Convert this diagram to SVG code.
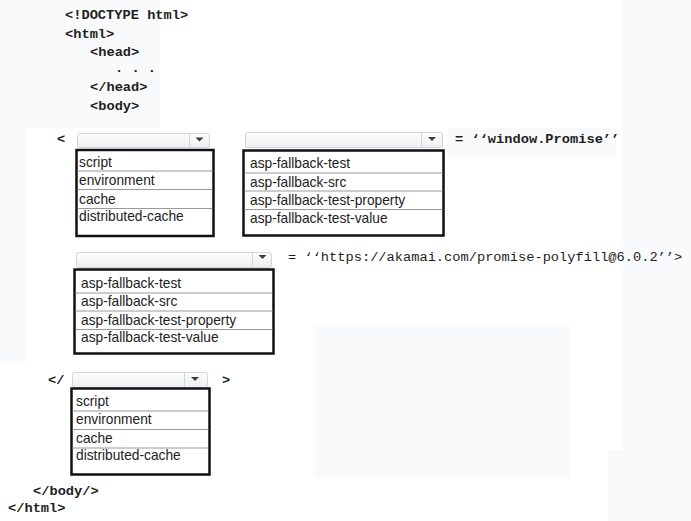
<svg xmlns="http://www.w3.org/2000/svg" width="691" height="521" viewBox="0 0 691 521">
  <style>
    .code { font-family: "Liberation Mono", "Courier New", monospace; font-size: 13.7px; font-weight: bold; fill: #1e1e1e; }
    .codeN { font-family: "Liberation Mono", "Courier New", monospace; font-size: 13.7px; fill: #1e1e1e; }
    .item { font-family: "Liberation Sans", Arial, sans-serif; font-size: 13.75px; fill: #222; }
    .field { fill: url(#fieldGrad); stroke: #d2d5d9; stroke-width: 1; }
    .div { stroke: #d2d5d9; stroke-width: 1; }
    .arrow { fill: #3c3c3c; }
    .list { fill: #ffffff; stroke: #111; stroke-width: 2.5; }
    .row { stroke: #9a9a9a; stroke-width: 1; }
    .patch { fill: #f9fafb; }
  </style>
  <defs>
    <linearGradient id="fieldGrad" x1="0" y1="0" x2="0" y2="1">
      <stop offset="0" stop-color="#fdfdfd"/>
      <stop offset="1" stop-color="#eceef1"/>
    </linearGradient>
    <clipPath id="codeClip">
      <rect x="0" y="0" width="691" height="128"/>
    </clipPath>
  </defs>

  <rect x="0" y="0" width="691" height="521" fill="#ffffff"/>
  <g id="background">
    <rect class="patch" x="0" y="0" width="27" height="362"/>
    <rect class="patch" x="27" y="0" width="133" height="128"/>
    <rect class="patch" x="448" y="128" width="168" height="28"/>
    <rect class="patch" x="313" y="325" width="257" height="154"/>
    <rect class="patch" x="623" y="0" width="68" height="450"/>
    <rect class="patch" x="608" y="450" width="83" height="71"/>
  </g>

  <g id="code">
    <text class="code" x="65" y="19">&lt;!DOCTYPE html&gt;</text>
    <text class="code" x="65" y="38">&lt;html&gt;</text>
    <text class="code" x="90" y="56">&lt;head&gt;</text>
    <text class="code" x="115" y="72">. . .</text>
    <text class="code" x="90" y="91">&lt;/head&gt;</text>
    <text class="code" x="90" y="110">&lt;body&gt;</text>
    <text class="code" x="115" y="131" clip-path="url(#codeClip)">. . .</text>
    <text class="code" x="57" y="143">&lt;</text>
    <text class="code" x="455" y="143">= ‘‘window.Promise’’</text>
    <text class="codeN" x="288" y="261">= ‘‘https://akamai.com/promise-polyfill@6.0.2’’&gt;</text>
    <text class="code" x="48" y="384">&lt;/</text>
    <text class="code" x="222" y="384">&gt;</text>
    <text class="code" x="33" y="495">&lt;/body/&gt;</text>
    <text class="code" x="8" y="512">&lt;/html&gt;</text>
  </g>

  <g id="dropdown-tag-open">
    <rect class="field" x="77.5" y="133.5" width="132" height="14" rx="2"/>
    <line class="div" x1="189.5" y1="134" x2="189.5" y2="147"/>
    <polygon class="arrow" points="195.5,137.5 203.5,137.5 199.5,141.5"/>
    <rect class="list" x="76.5" y="150" width="137" height="86"/>
    <line class="row" x1="77.5" y1="171" x2="212.5" y2="171"/>
    <line class="row" x1="77.5" y1="189.5" x2="212.5" y2="189.5"/>
    <line class="row" x1="77.5" y1="208.5" x2="212.5" y2="208.5"/>
    <text class="item" x="79" y="166.5">script</text>
    <text class="item" x="79" y="185">environment</text>
    <text class="item" x="79" y="203.5">cache</text>
    <text class="item" x="79" y="221">distributed-cache</text>
  </g>

  <g id="dropdown-attr-test">
    <rect class="field" x="245.5" y="132.5" width="197" height="15" rx="2"/>
    <line class="div" x1="421.5" y1="133" x2="421.5" y2="147"/>
    <polygon class="arrow" points="428,137 436,137 432,141"/>
    <rect class="list" x="243.5" y="150.5" width="200" height="85"/>
    <line class="row" x1="244.5" y1="173" x2="442.5" y2="173"/>
    <line class="row" x1="244.5" y1="191" x2="442.5" y2="191"/>
    <line class="row" x1="244.5" y1="209.5" x2="442.5" y2="209.5"/>
    <text class="item" x="250" y="167.5">asp-fallback-test</text>
    <text class="item" x="250" y="186.5">asp-fallback-src</text>
    <text class="item" x="250" y="204.5">asp-fallback-test-property</text>
    <text class="item" x="250" y="222.5">asp-fallback-test-value</text>
  </g>

  <g id="dropdown-attr-src">
    <rect class="field" x="76.5" y="252.5" width="195" height="15" rx="2"/>
    <line class="div" x1="252.5" y1="253" x2="252.5" y2="267"/>
    <polygon class="arrow" points="258.5,255 266.5,255 262.5,259"/>
    <rect class="list" x="74.5" y="269.5" width="199" height="84"/>
    <line class="row" x1="75.5" y1="293" x2="272.5" y2="293"/>
    <line class="row" x1="75.5" y1="311" x2="272.5" y2="311"/>
    <line class="row" x1="75.5" y1="329.5" x2="272.5" y2="329.5"/>
    <text class="item" x="81" y="287.5">asp-fallback-test</text>
    <text class="item" x="81" y="305.5">asp-fallback-src</text>
    <text class="item" x="81" y="324.5">asp-fallback-test-property</text>
    <text class="item" x="81" y="341.5">asp-fallback-test-value</text>
  </g>

  <g id="dropdown-tag-close">
    <rect class="field" x="72.5" y="372.5" width="135" height="15" rx="2"/>
    <line class="div" x1="184.5" y1="373" x2="184.5" y2="387"/>
    <polygon class="arrow" points="191,377 199,377 195,381"/>
    <rect class="list" x="71.5" y="388.5" width="138" height="86"/>
    <line class="row" x1="72.5" y1="411" x2="208.5" y2="411"/>
    <line class="row" x1="72.5" y1="429.5" x2="208.5" y2="429.5"/>
    <line class="row" x1="72.5" y1="448" x2="208.5" y2="448"/>
    <text class="item" x="76" y="405.5">script</text>
    <text class="item" x="76" y="423.5">environment</text>
    <text class="item" x="76" y="442.5">cache</text>
    <text class="item" x="76" y="459.5">distributed-cache</text>
  </g>

  <g id="connectors"></g>
</svg>
